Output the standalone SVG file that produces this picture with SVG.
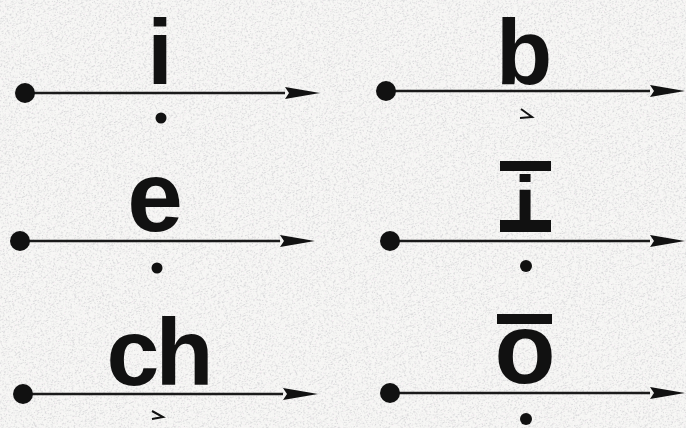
<svg xmlns="http://www.w3.org/2000/svg" width="686" height="428" viewBox="0 0 686 428">
  <defs>
    <filter id="grain" x="0" y="0" width="100%" height="100%">
      <feTurbulence type="fractalNoise" baseFrequency="0.55 0.9" numOctaves="2" seed="3" result="n"/>
      <feColorMatrix in="n" type="matrix" values="0 0 0 0 0.62  0 0 0 0 0.62  0 0 0 0 0.64  5 0 0 0 -2.6" result="g"/>
      <feTurbulence type="fractalNoise" baseFrequency="0.7 0.5" numOctaves="1" seed="9" result="n2"/>
      <feColorMatrix in="n2" type="matrix" values="0 0 0 0 1  0 0 0 0 0.85  0 0 0 0 0.95  0 5 0 0 -3.1" result="p"/>
      <feMerge><feMergeNode in="p"/><feMergeNode in="g"/></feMerge>
    </filter>
    <marker id="arr" markerUnits="userSpaceOnUse" markerWidth="36" markerHeight="14" refX="0" refY="7" orient="auto">
      <path d="M0,1 L35,7 L0,13 L4,7 Z" fill="#111"/>
    </marker>
    <style>
      .ln{stroke:#1a1a1a;stroke-width:2.5;fill:none}
      .st{fill:#111}
      .lt{font-family:"Liberation Sans",Arial,Helvetica,sans-serif;font-weight:bold;fill:#111;text-anchor:middle}
      .mk{stroke:#111;stroke-width:2;fill:none;stroke-linejoin:miter}
    </style>
  </defs>
  <rect width="686" height="428" fill="#f7f7f5"/>
  <g transform="rotate(-25 343 214)"><rect x="-200" y="-200" width="1100" height="830" filter="url(#grain)" opacity="0.75"/></g>

  <g id="connectors">
    <line class="ln" x1="25" y1="93" x2="285" y2="93" marker-end="url(#arr)"/>
    <line class="ln" x1="386" y1="91" x2="650" y2="91" marker-end="url(#arr)"/>
    <line class="ln" x1="20" y1="241" x2="280" y2="241" marker-end="url(#arr)"/>
    <line class="ln" x1="390" y1="241" x2="650" y2="241" marker-end="url(#arr)"/>
    <line class="ln" x1="23" y1="394" x2="283" y2="394" marker-end="url(#arr)"/>
    <line class="ln" x1="390" y1="393" x2="650" y2="393" marker-end="url(#arr)"/>
  </g>

  <g id="node-i">
    <circle class="st" cx="25" cy="93" r="10"/>
    <text class="lt" x="160" y="84" font-size="92">i</text>
    <circle class="st" cx="161" cy="118" r="5.5"/>
  </g>
  <g id="node-b">
    <circle class="st" cx="386" cy="91" r="10"/>
    <text class="lt" x="524" y="84" font-size="92">b</text>
    <path class="mk" d="M521,109 L532,117 L520,118"/>
  </g>
  <g id="node-e">
    <circle class="st" cx="20" cy="241" r="10"/>
    <text class="lt" x="155" y="231" font-size="100">e</text>
    <circle class="st" cx="157" cy="268" r="5.5"/>
  </g>
  <g id="node-i-long">
    <circle class="st" cx="390" cy="241" r="10"/>
    <rect class="st" x="500" y="161" width="51" height="10"/>
    <text class="lt" x="525" y="232" font-size="80">i</text>
    <rect class="st" x="500" y="220" width="51" height="12"/>
    <circle class="st" cx="526" cy="266" r="6"/>
  </g>
  <g id="node-ch">
    <circle class="st" cx="23" cy="394" r="10"/>
    <text class="lt" x="158" y="385" font-size="95" letter-spacing="-4">ch</text>
    <path class="mk" d="M152,411 L163,417 L152,419"/>
  </g>
  <g id="node-o">
    <circle class="st" cx="390" cy="393" r="10"/>
    <rect class="st" x="497" y="314" width="55" height="10"/>
    <text class="lt" x="525" y="383" font-size="100">o</text>
    <circle class="st" cx="526" cy="419" r="6"/>
  </g>
</svg>
